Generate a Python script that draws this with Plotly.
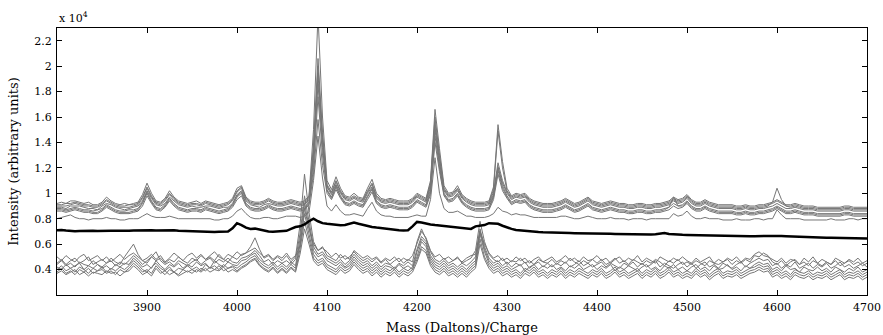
import plotly.graph_objects as go

# Mass/charge sample grid (Daltons/charge), 5 Da spacing
mass = list(range(3800, 4701, 5))

# Intensities in hundreds of arbitrary units (plotted in units of 10^4)
upper_1 = [92,93,92,94,94,93,92,93,91,91, 93,97,94,92,91,92,91,92,93,99,
           108,100,94,93,96,102,97,94,93,92, 93,94,92,94,93,92,91,92,93,96,
           104,106,97,94,93,93,94,96,94,93, 93,94,95,94,93,94,98,150,240,160,
           110,103,113,104,98,97,100,97,96,104, 111,100,96,95,96,95,94,94,94,96,
           100,98,96,110,166,135,106,100,101,106, 99,96,94,93,93,93,94,105,154,125,
           104,98,100,99,100,96,94,93,92,92, 92,93,94,96,94,92,93,95,97,94,
           93,92,93,94,93,92,92,91,91,92, 92,91,91,92,92,93,94,97,95,96,
           99,95,93,93,95,93,92,91,91,91, 91,90,90,91,90,90,91,91,92,93,
           95,93,91,91,92,91,90,90,90,89, 89,89,89,89,89,90,90,89,89,89,89]
upper_2 = [91,91,92,92,93,92,91,91,90,90, 92,95,93,91,90,90,91,91,92,97,
           105,98,93,92,95,100,96,93,92,91, 92,92,91,93,92,91,90,91,92,95,
           102,105,96,93,92,92,93,95,93,92, 92,93,94,93,92,93,97,138,206,148,
           107,101,110,102,97,96,98,96,95,102, 108,98,95,94,95,94,93,93,93,95,
           99,97,95,108,160,130,104,99,100,104, 98,95,93,92,92,92,93,103,149,120,
           102,97,99,98,99,95,93,92,91,91, 91,92,93,95,93,91,92,94,96,93,
           92,91,92,93,92,91,91,90,90,91, 91,90,90,91,91,92,93,96,94,95,
           98,94,92,92,94,92,91,90,90,90, 90,89,89,90,89,89,90,90,91,92,
           94,92,90,90,91,90,89,89,89,88, 88,88,88,88,88,89,89,88,88,88,88]
upper_3 = [90,90,90,91,92,91,90,90,89,89, 91,94,92,90,89,89,89,90,91,96,
           104,97,92,91,94,99,95,92,91,90, 91,91,90,92,91,90,89,90,91,94,
           101,104,95,92,91,91,92,94,92,91, 91,92,93,92,91,92,96,134,200,144,
           106,100,109,101,96,95,97,95,94,101, 107,97,94,93,94,93,92,92,92,94,
           98,96,94,107,156,128,103,98,99,103, 97,94,92,91,91,91,92,101,124,110,
           101,96,98,97,98,94,92,91,90,90, 90,91,92,94,92,90,91,93,95,92,
           91,90,91,92,91,90,90,89,89,90, 90,89,89,90,90,91,92,95,93,94,
           97,93,91,91,93,91,90,89,89,89, 89,88,88,89,88,88,89,89,90,93,
           104,95,90,89,90,89,88,88,88,87, 87,87,87,87,87,88,88,87,87,87,87]
upper_4 = [89,89,88,90,90,90,89,88,88,87, 90,92,91,89,88,87,88,89,90,94,
           102,96,91,90,92,97,94,91,90,89, 90,89,89,90,90,89,88,89,89,92,
           99,102,94,91,90,89,91,92,91,90, 90,91,92,91,90,91,95,130,194,140,
           105,99,107,100,95,94,96,94,93,100, 105,96,93,92,93,92,91,91,91,93,
           97,95,93,105,152,125,102,97,98,102, 96,93,91,90,90,90,91,99,121,108,
           100,95,97,96,97,93,91,90,89,89, 89,90,91,93,91,89,90,92,94,91,
           90,89,90,91,90,89,89,88,88,89, 89,88,88,89,89,90,91,94,92,93,
           96,92,90,90,92,90,89,88,88,88, 88,87,87,88,87,87,88,88,89,90,
           92,90,88,88,89,88,87,87,87,86, 86,86,86,86,86,87,87,86,86,86,86]
upper_5 = [88,88,87,88,89,88,87,87,86,87, 88,91,89,87,86,86,87,87,88,93,
           101,94,89,88,91,96,92,89,88,87, 88,88,87,89,88,87,86,87,88,91,
           98,101,92,89,88,88,89,91,89,88, 88,89,90,89,88,89,93,126,186,136,
           103,97,106,98,93,92,94,92,91,98, 104,94,91,90,91,90,89,89,89,91,
           95,93,91,103,150,122,100,95,96,100, 94,91,89,88,88,88,89,98,120,106,
           98,93,95,94,95,91,89,88,87,87, 87,88,89,91,89,87,88,90,92,89,
           88,87,88,89,88,87,87,86,86,87, 87,86,86,87,87,88,89,92,90,91,
           94,90,88,88,90,88,87,86,86,86, 86,85,85,86,85,85,86,86,87,88,
           90,88,86,86,87,86,85,85,85,84, 84,84,84,84,84,85,85,84,84,84,84]
upper_6 = [87,87,86,87,88,87,86,86,85,85, 87,90,88,86,85,85,85,86,87,92,
           100,93,88,87,90,95,91,88,87,86, 87,87,86,88,87,86,85,86,87,90,
           97,100,91,88,87,87,88,90,88,87, 87,88,89,88,87,88,92,120,176,130,
           102,96,105,97,92,91,93,91,90,97, 103,93,90,89,90,89,88,88,88,90,
           94,92,90,101,145,120,99,94,95,99, 93,90,88,87,87,87,88,97,118,104,
           97,92,94,93,94,90,88,87,86,86, 86,87,88,90,88,86,87,89,91,88,
           87,86,87,88,87,86,86,85,85,86, 86,85,85,86,86,87,89,97,90,90,
           93,89,87,87,89,87,86,85,85,85, 85,84,84,85,84,84,85,85,86,87,
           89,87,85,85,86,85,84,84,84,83, 83,83,83,83,83,84,84,83,83,83,83]
upper_7 = [86,86,85,86,87,86,85,85,84,84, 86,89,87,85,84,84,84,85,86,90,
           98,92,87,86,89,94,90,87,86,85, 86,86,85,87,86,85,84,85,86,89,
           95,98,90,87,86,86,87,89,87,86, 86,87,88,87,86,87,91,115,158,122,
           100,95,103,96,91,90,92,90,89,95, 101,92,89,88,89,88,87,87,87,89,
           93,91,89,99,140,117,98,93,94,98, 92,89,87,86,86,86,87,95,115,102,
           96,91,93,92,93,89,87,86,85,85, 85,86,87,89,87,85,86,88,90,87,
           86,85,86,87,86,85,85,84,84,85, 85,84,84,85,85,86,87,90,88,89,
           92,88,86,86,88,86,85,84,84,84, 84,83,83,84,83,83,84,84,85,86,
           88,86,84,84,85,84,83,83,83,82, 82,82,82,82,82,83,83,82,82,82,82]

thin_line = [80,81,82,83,81,80,80,79,80,80, 80,81,80,80,79,79,80,80,80,82,
             84,82,81,81,81,82,81,80,80,80, 80,80,80,80,80,79,79,80,80,82,
             86,88,84,81,80,80,81,81,80,80, 81,82,82,82,81,82,85,110,145,112,
             90,86,91,86,83,83,84,83,82,88, 93,86,83,82,82,81,81,81,81,82,
             83,82,82,95,128,100,88,85,85,86, 84,82,82,81,81,81,82,84,89,86,
             85,83,84,83,83,82,81,81,81,81, 81,81,82,82,81,80,80,81,82,81,
             80,80,80,81,80,80,80,79,80,80, 80,79,80,80,80,80,80,84,82,83,
             86,82,80,80,81,80,80,80,79,79, 79,80,79,79,79,80,80,79,80,80,
             87,83,80,80,80,80,79,79,79,79, 79,79,80,79,79,79,80,80,79,80,80]

mean_line = [71.0,71.2,70.8,70.4,70.2,70.3,70.5,70.6,70.5,70.4,
             70.6,70.8,70.6,70.5,70.4,70.5,70.6,70.8,70.9,71.0,
             71.2,71.0,70.8,70.8,71.0,71.2,70.9,70.6,70.4,70.3,
             70.2,70.0,69.8,69.7,69.6,69.6,69.7,69.8,70.0,72.5,
             76.5,75.0,73.0,72.0,72.2,71.5,70.5,70.0,69.8,70.0,
             70.0,70.5,72.0,73.5,74.0,75.5,78.0,80.0,78.0,76.5,
             76.0,75.5,75.0,74.8,75.0,76.0,77.0,76.0,75.0,74.0,
             73.5,73.0,72.5,72.2,71.8,71.5,71.0,70.8,71.0,74.0,
             77.5,77.0,76.0,75.5,75.0,74.6,74.2,74.0,73.8,73.5,
             73.0,72.5,72.0,74.0,74.5,75.0,76.5,76.5,76.0,74.5,
             73.0,72.0,71.2,70.8,70.4,70.1,69.8,69.6,69.4,69.2,
             69.0,68.9,68.8,68.7,68.7,68.6,68.6,68.5,68.5,68.5,
             68.4,68.3,68.2,68.1,68.0,67.9,67.9,67.8,67.7,67.7,
             67.6,67.5,67.5,67.8,68.6,68.8,68.0,67.6,67.4,67.3,
             67.2,67.1,67.0,66.9,66.8,66.8,66.7,66.6,66.5,66.5,
             66.4,66.3,66.2,66.2,66.2,66.3,66.4,66.5,66.7,66.8,
             66.6,66.4,66.2,66.0,65.9,65.7,65.5,65.3,65.2,65.1,
             65.1,65.0,65.0,64.9,64.8,64.8,64.7,64.6,64.6,64.5,64.5]

lower_1 = [50,47,51,48,46,50,52,47,49,51, 47,50,46,49,52,48,51,53,50,47,
           49,52,48,51,46,49,53,50,47,51, 53,49,52,48,51,54,50,48,52,50,
           54,51,53,55,57,53,50,52,48,51, 49,53,48,51,58,88,72,60,55,57,
           54,50,53,49,51,48,55,52,49,51, 48,50,46,49,47,50,46,49,47,51,
           60,70,65,55,50,52,48,50,47,49, 46,49,51,52,70,60,53,49,51,47,
           49,46,50,47,49,45,48,50,46,48, 50,46,48,51,47,49,46,50,47,48,
           51,47,49,45,48,50,46,49,47,51, 46,49,47,45,50,48,46,49,47,50,
           47,45,49,46,48,50,45,48,46,49, 47,50,46,49,48,52,54,51,50,48,
           46,49,45,48,47,44,49,46,50,45, 48,46,44,49,47,45,48,46,49,45,47]
lower_2 = [45,48,44,47,49,45,47,50,44,46, 48,45,49,46,44,50,55,60,52,47,
           45,50,47,49,45,48,46,50,47,45, 49,47,51,48,50,47,52,48,46,50,
           48,52,53,58,65,56,49,51,47,50, 47,51,46,50,75,115,85,62,55,58,
           51,49,47,52,48,50,54,50,47,49, 46,49,45,48,44,47,49,45,48,46,
           62,72,64,54,48,46,49,45,47,50, 45,47,49,55,78,62,52,48,46,49,
           44,47,46,49,45,47,44,48,46,45, 48,44,47,45,49,46,44,47,45,48,
           45,48,44,46,49,45,47,44,48,46, 44,47,45,48,46,43,47,45,48,44,
           46,44,47,45,43,47,45,44,46,48, 44,47,45,48,46,51,50,53,51,46,
           44,47,43,46,48,44,46,43,47,45, 43,46,44,47,43,45,47,44,46,43,45]
lower_3 = [44,47,43,45,42,46,44,43,47,44, 42,45,47,43,46,44,47,51,48,44,
           47,50,54,47,44,46,43,47,45,43, 46,48,44,47,49,45,48,46,49,46,
           45,49,50,52,55,51,46,48,44,47, 45,47,44,48,68,98,78,58,52,54,
           49,47,45,48,44,47,52,48,45,47, 43,46,42,45,44,41,45,43,46,43,
           56,66,62,51,46,44,47,43,45,42, 45,43,46,50,72,58,49,45,47,43,
           46,42,45,43,46,41,44,46,42,45, 42,45,43,46,42,44,47,43,45,42,
           44,46,42,45,43,41,45,43,46,42, 45,42,44,47,42,45,43,41,44,46,
           42,45,41,44,46,42,44,41,45,43, 41,44,46,42,45,47,49,47,48,43,
           45,41,44,42,46,41,43,45,41,44, 42,45,41,43,46,42,44,41,43,45,42]
lower_4 = [42,40,44,41,43,45,40,43,41,44, 41,43,40,44,42,45,44,49,46,42,
           44,41,47,43,40,44,42,45,41,44, 42,46,43,45,41,47,44,42,46,44,
           43,47,48,51,53,48,45,43,46,42, 45,42,46,43,64,92,74,55,50,52,
           47,45,43,46,42,45,50,46,43,45, 41,44,40,43,42,40,44,41,43,40,
           54,64,60,49,44,42,45,41,43,40, 43,40,44,47,70,56,47,43,45,41,
           43,40,42,44,39,42,44,40,43,41, 44,40,42,39,43,41,44,40,42,44,
           40,43,41,44,39,42,40,43,41,39, 42,44,40,42,39,43,41,44,40,42,
           39,42,44,40,42,39,43,40,41,44, 40,42,39,43,41,44,46,44,45,40,
           42,39,43,40,41,38,42,40,39,42, 39,41,38,42,40,38,41,39,42,38,40]
lower_5 = [40,43,39,41,38,42,40,37,41,39, 42,38,41,39,42,40,43,47,44,40,
           38,42,45,41,39,42,38,41,40,43, 40,42,39,44,41,43,40,44,41,43,
           41,44,46,49,51,46,43,41,44,40, 43,40,44,41,60,84,68,52,47,49,
           44,42,40,44,41,43,48,44,41,43, 39,42,38,41,39,42,38,41,39,42,
           50,62,58,47,42,40,43,39,41,38, 41,38,42,45,68,54,45,41,43,39,
           41,38,40,37,41,39,42,38,40,37, 40,38,41,37,40,38,41,39,37,40,
           38,41,37,39,42,38,40,37,39,41, 37,40,38,41,37,39,42,38,40,37,
           39,37,41,38,40,36,39,41,37,39, 38,40,37,39,41,42,44,42,43,38,
           40,37,39,36,40,38,37,39,36,38, 37,39,36,38,40,36,38,37,39,36,38]
lower_6 = [38,41,37,39,36,40,38,41,37,39, 40,37,39,36,40,38,41,45,42,38,
           40,37,43,39,36,40,38,36,40,38, 40,38,41,39,42,40,43,39,41,42,
           39,42,44,47,49,44,41,39,42,38, 41,38,42,39,56,78,64,49,45,47,
           42,40,38,42,39,41,46,42,39,41, 37,40,36,39,37,40,36,39,37,40,
           48,58,55,45,40,38,41,37,39,36, 39,36,40,43,64,50,43,39,41,37,
           39,36,38,35,39,37,40,36,38,35, 38,36,39,35,38,36,39,37,35,38,
           36,39,35,37,40,36,38,35,37,39, 35,38,36,39,35,37,40,36,38,35,
           37,35,39,36,38,34,37,39,35,37, 36,38,35,37,39,40,42,40,41,36,
           38,35,37,34,38,36,35,37,34,36, 35,37,34,36,38,34,36,35,37,34,36]
lower_7 = [37,39,36,38,40,36,38,35,38,37, 36,39,37,38,35,38,39,43,40,36,
           38,35,41,37,39,36,38,35,37,39, 37,40,38,41,38,40,39,42,38,40,
           38,41,43,46,48,43,40,38,41,37, 40,37,41,38,52,72,60,47,43,45,
           40,38,36,40,37,39,44,40,37,39, 35,38,34,37,35,38,34,37,35,38,
           46,56,53,43,38,36,39,35,37,34, 37,34,38,41,60,48,41,37,39,35,
           37,34,36,33,37,35,38,34,36,33, 36,34,37,33,36,34,37,35,33,36,
           34,37,33,35,38,34,36,33,35,37, 33,36,34,37,33,35,38,34,36,33,
           35,33,37,34,36,32,35,37,33,35, 34,36,33,35,37,38,40,38,39,34,
           36,33,35,32,36,34,33,35,32,34, 33,35,32,34,36,32,34,33,35,32,34]

grey_series = [upper_1, upper_2, upper_3, upper_4, upper_5, upper_6, upper_7,
               thin_line,
               lower_1, lower_2, lower_3, lower_4, lower_5, lower_6, lower_7]

x_ticks = [3900, 4000, 4100, 4200, 4300, 4400, 4500, 4600, 4700]
y_ticks = [0.4, 0.6, 0.8, 1.0, 1.2, 1.4, 1.6, 1.8, 2.0, 2.2]
y_tick_labels = ["0.4", "0.6", "0.8", "1", "1.2", "1.4", "1.6", "1.8", "2", "2.2"]

FONT = "DejaVu Serif"
GREY = "rgb(118,118,118)"

fig = go.Figure()
for s in grey_series:
    fig.add_trace(go.Scatter(x=mass, y=[v / 100 for v in s], mode="lines",
                             line=dict(color=GREY, width=1), hoverinfo="skip"))
fig.add_trace(go.Scatter(x=mass, y=[v / 100 for v in mean_line], mode="lines",
                         line=dict(color="black", width=2.5), hoverinfo="skip"))

axis_common = dict(showline=True, linecolor="black", linewidth=1, mirror="ticks",
                   ticks="inside", ticklen=5, tickcolor="black", tickwidth=1,
                   showgrid=False, zeroline=False, automargin=False,
                   tickfont=dict(family=FONT, size=11, color="black"))

fig.update_layout(
    width=883, height=335,
    margin=dict(l=57, r=16, t=28, b=40),
    paper_bgcolor="white", plot_bgcolor="white",
    showlegend=False,
    xaxis=dict(range=[3800, 4700], tickvals=x_ticks, ticklabelstandoff=2,
               title=dict(text="Mass (Daltons)/Charge", font=dict(family=FONT, size=13, color="black"),
                          standoff=9),
               **axis_common),
    yaxis=dict(range=[0.2, 2.3], tickvals=y_ticks, ticktext=y_tick_labels, ticklabelstandoff=2,
               title=dict(text="Intensity (arbitrary units)", font=dict(family=FONT, size=13, color="black"),
                          standoff=12),
               **axis_common),
    annotations=[dict(text="x 10<sup>4</sup>", xref="paper", yref="paper", x=0, y=1,
                      xanchor="left", yanchor="bottom", yshift=1, showarrow=False,
                      font=dict(family=FONT, size=11, color="black"))],
)

fig.write_html("out.html")
